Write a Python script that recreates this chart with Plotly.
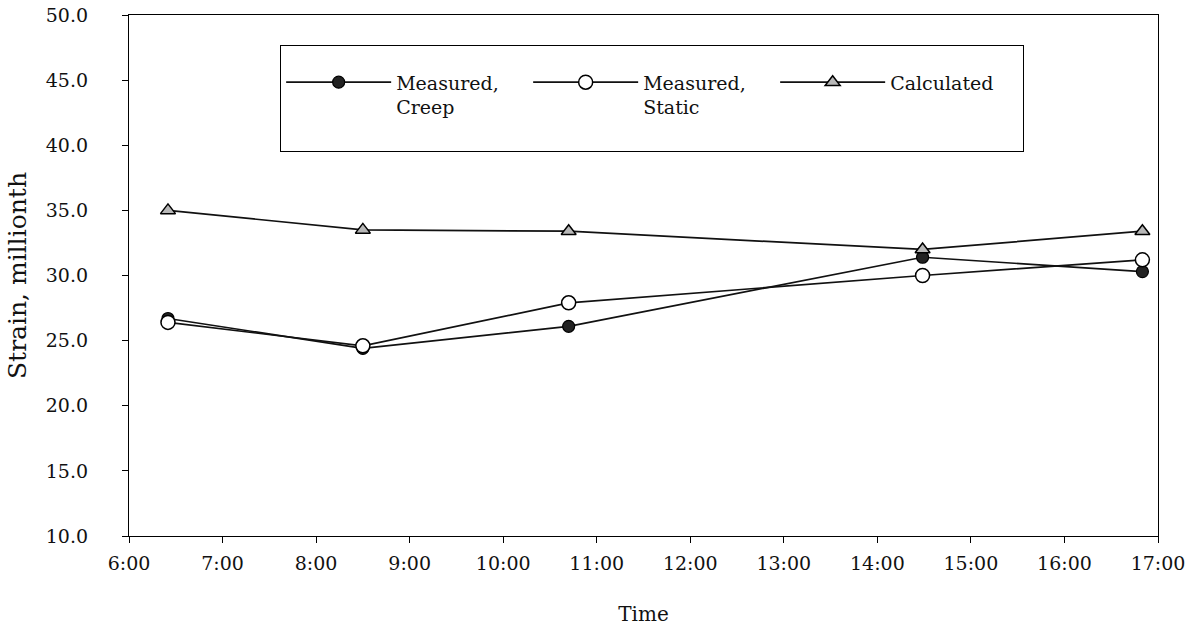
import plotly.graph_objects as go

# ---- data ----
times = ["6:25", "8:30", "10:42", "14:29", "16:50"]
creep = [26.7, 24.4, 26.1, 31.4, 30.3]
static = [26.4, 24.6, 27.9, 30.0, 31.2]
calculated = [35.0, 33.5, 33.4, 32.0, 33.4]

x_tick_labels = ["6:00", "7:00", "8:00", "9:00", "10:00", "11:00", "12:00",
                 "13:00", "14:00", "15:00", "16:00", "17:00"]
y_tick_values = [10, 15, 20, 25, 30, 35, 40, 45, 50]


def to_hours(t):
    h, m = t.split(":")
    return int(h) + int(m) / 60.0


x_hours = [to_hours(t) for t in times]
x_tick_values = [to_hours(t) for t in x_tick_labels]

FONT = "DejaVu Serif"

fig = go.Figure()

fig.add_trace(go.Scatter(
    x=x_hours, y=creep, mode="lines+markers",
    name="Measured,<br>Creep<br> ",
    line=dict(color="#111111", width=1.7),
    marker=dict(symbol="circle", size=12, color="#222222",
                line=dict(color="#000000", width=1.2)),
))
fig.add_trace(go.Scatter(
    x=x_hours, y=static, mode="lines+markers",
    name="Measured,<br>Static<br> ",
    line=dict(color="#111111", width=1.7),
    marker=dict(symbol="circle", size=14, color="#ffffff",
                line=dict(color="#000000", width=1.5)),
))
fig.add_trace(go.Scatter(
    x=x_hours, y=calculated, mode="lines+markers",
    name="Calculated<br> <br> ",
    line=dict(color="#111111", width=1.7),
    marker=dict(symbol="triangle-up", size=13, color="#b8b8b8",
                line=dict(color="#000000", width=1.5)),
))

axis_common = dict(showgrid=False, zeroline=False, showline=True,
                   linecolor="#000000", linewidth=1.2, mirror=True,
                   tickcolor="#000000", tickwidth=1, ticklen=6,
                   ticks="outside", automargin=False,
                   ticklabeloverflow="allow",
                   tickfont=dict(family=FONT, size=19, color="#111111"))

fig.update_layout(
    width=1200, height=636,
    margin=dict(l=129, r=42, t=15, b=100),
    paper_bgcolor="#ffffff", plot_bgcolor="#ffffff",
    font=dict(family=FONT, size=19, color="#111111"),
    xaxis=dict(range=[6, 17], tickvals=x_tick_values, ticktext=x_tick_labels,
               ticklabelstandoff=4,
               title=dict(text="Time", font=dict(family=FONT, size=20),
                          standoff=34),
               **axis_common),
    yaxis=dict(range=[10, 50], tickvals=y_tick_values,
               ticktext=[f"{v:.1f}" for v in y_tick_values],
               ticklabelstandoff=30,
               title=dict(text="Strain, millionth",
                          font=dict(family=FONT, size=25), standoff=12),
               **axis_common),
    xaxis2=dict(range=[6, 17], tickvals=x_tick_values, overlaying="x",
                anchor="y", side="bottom", showticklabels=False,
                ticks="inside", ticklen=6, tickcolor="#000000", tickwidth=1,
                showgrid=False, zeroline=False, showline=False,
                automargin=False),
    yaxis2=dict(range=[10, 50], tickvals=y_tick_values, overlaying="y",
                anchor="x", side="left", showticklabels=False,
                ticks="inside", ticklen=6, tickcolor="#000000", tickwidth=1,
                showgrid=False, zeroline=False, showline=False,
                automargin=False),
    showlegend=True,
    legend=dict(orientation="h", x=0.1467, y=0.942, xanchor="left",
                yanchor="top", bgcolor="#ffffff", bordercolor="#000000",
                borderwidth=1.2, itemwidth=105, entrywidth=127,
                valign="top",
                title=dict(text=" ", side="top",
                           font=dict(family=FONT, size=13)),
                font=dict(family=FONT, size=19, color="#111111")),
)

fig.write_html("out.html", config={"displayModeBar": False},
               post_script="document.body.style.margin='0px';")
